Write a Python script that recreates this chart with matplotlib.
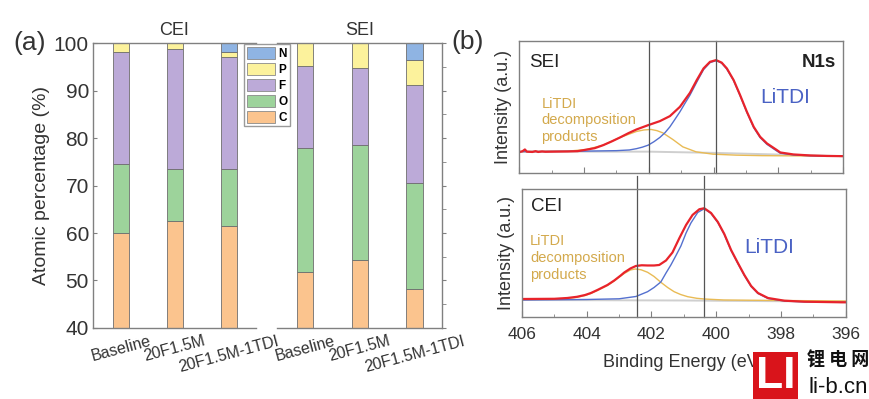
import matplotlib
matplotlib.use("Agg")
import matplotlib.pyplot as plt
from matplotlib.patches import Patch, Rectangle
from matplotlib.ticker import MultipleLocator

plt.rcParams['font.family'] = ['Liberation Sans', 'DejaVu Sans']

# ---- (a) atomic percentages, stacked C, O, F, P, N ----
samples = ['Baseline', '20F1.5M', '20F1.5M-1TDI']
cei_c = [59.9, 62.6, 61.5]
cei_o = [14.7, 10.8, 11.9]
cei_f = [23.5, 25.3, 23.7]
cei_p = [1.9, 1.3, 1.0]
cei_n = [0.0, 0.0, 1.9]
sei_c = [51.7, 54.3, 48.2]
sei_o = [26.3, 24.2, 22.4]
sei_f = [17.2, 16.3, 20.6]
sei_p = [4.8, 5.2, 5.2]
sei_n = [0.0, 0.0, 3.6]
elements = ['C', 'O', 'F', 'P', 'N']
el_colors = ['#fbc48e', '#9dd39b', '#bcaad8', '#fcf29c', '#8fb4e3']

# ---- (b) N1s spectra, (binding energy eV, intensity a.u.) ----
sei_env = [(406.0, 21.0), (405.9, 22.0), (405.83, 23.7), (405.77, 21.5), (405.6, 21.2),
           (405.5, 22.0), (405.42, 21.2), (405.3, 21.7), (405.2, 21.4), (405.0, 21.5),
           (404.5, 21.7), (404.2, 22.0), (403.93, 23.5), (403.67, 25.0), (403.41, 28.0),
           (403.15, 31.7), (402.89, 35.7), (402.63, 40.0), (402.38, 43.7), (402.02, 48.0),
           (401.66, 52.0), (401.35, 57.0), (401.04, 66.3), (400.73, 80.3), (400.52, 93.0),
           (400.31, 104.7), (400.11, 111.3), (399.92, 113.0), (399.75, 110.5), (399.59, 104.7),
           (399.38, 93.0), (399.18, 78.0), (398.97, 61.3), (398.76, 46.3), (398.56, 36.3),
           (398.35, 29.7), (398.04, 23.0), (397.94, 20.7), (397.53, 18.7), (397.01, 17.7),
           (396.5, 17.2), (396.0, 17.0)]
sei_litdi = [(406.0, 21.5), (404.0, 22.0), (403.0, 22.5), (402.6, 23.2), (402.38, 24.5),
             (402.2, 26.0), (402.02, 28.0), (401.84, 31.5), (401.66, 35.7), (401.5, 40.5),
             (401.35, 46.3), (401.2, 53.5), (401.04, 61.3), (400.89, 69.5), (400.73, 78.0),
             (400.52, 91.0), (400.31, 103.5), (400.11, 110.5), (399.92, 112.5), (399.75, 110.0),
             (399.59, 104.0), (399.38, 92.5), (399.18, 77.5), (398.97, 60.7), (398.76, 45.5),
             (398.56, 35.5), (398.35, 28.8), (398.04, 22.0), (397.94, 20.0), (397.53, 18.2),
             (397.01, 17.4), (396.5, 17.0), (396.0, 16.8)]
sei_decomp = [(406.0, 21.5), (404.5, 22.0), (403.93, 23.7), (403.41, 28.0), (402.89, 35.7),
              (402.38, 41.7), (402.15, 43.2), (401.93, 43.7), (401.75, 42.5), (401.57, 40.3),
              (401.26, 33.7), (400.95, 26.3), (400.54, 21.3), (400.02, 19.0), (399.3, 18.0),
              (398.5, 17.5), (396.0, 17.0)]
sei_bg = [(406.0, 21.5), (402.0, 21.5), (400.0, 20.3), (398.0, 18.6), (396.0, 17.0)]

cei_env = [(406.0, 18.0), (405.0, 18.2), (404.6, 19.0), (404.3, 20.2), (404.05, 22.0),
           (403.87, 24.0), (403.67, 27.0), (403.36, 32.0), (403.15, 36.5), (402.95, 41.5),
           (402.84, 44.5), (402.65, 48.5), (402.48, 51.0), (402.3, 51.7), (402.12, 51.5),
           (401.92, 51.5), (401.76, 52.0), (401.55, 56.5), (401.35, 64.5), (401.14, 78.7),
           (400.93, 92.0), (400.73, 102.0), (400.52, 107.7), (400.37, 108.7), (400.16, 104.0),
           (399.95, 95.0), (399.75, 83.0), (399.54, 67.0), (399.33, 54.0), (399.13, 42.0),
           (398.92, 31.0), (398.71, 24.0), (398.4, 19.0), (397.89, 16.3), (397.27, 15.3),
           (396.13, 14.7), (396.0, 14.7)]
cei_litdi = [(406.0, 17.0), (404.0, 17.5), (403.0, 18.2), (402.48, 20.5), (402.12, 25.3),
             (401.92, 29.5), (401.71, 35.0), (401.55, 44.0), (401.4, 52.0), (401.25, 61.0),
             (401.09, 71.0), (400.93, 84.0), (400.78, 94.0), (400.57, 104.5), (400.37, 108.2),
             (400.16, 103.5), (399.95, 94.5), (399.75, 82.5), (399.54, 66.5), (399.33, 53.5),
             (399.13, 41.5), (398.92, 30.5), (398.71, 23.5), (398.4, 18.5), (397.89, 16.0),
             (397.27, 15.1), (396.0, 14.6)]
cei_decomp = [(406.0, 17.5), (405.0, 17.7), (404.6, 18.5), (404.3, 19.7), (404.05, 21.5),
              (403.87, 23.5), (403.67, 26.5), (403.36, 31.5), (403.15, 36.0), (402.95, 41.0),
              (402.84, 43.5), (402.65, 47.0), (402.5, 48.0), (402.32, 47.2), (402.12, 44.7),
              (401.92, 40.5), (401.71, 34.7), (401.5, 29.5), (401.3, 25.3), (401.1, 22.5),
              (400.88, 20.3), (400.6, 18.7), (400.37, 18.0), (399.76, 17.0), (398.0, 16.5),
              (396.0, 16.0)]
cei_bg = [(406.0, 17.0), (401.0, 16.5), (396.0, 15.3)]

sei_peaks = [402.0, 399.93]
cei_peaks = [402.45, 400.38]

SPINE = '#808080'
TXT = '#333333'

fig = plt.figure(figsize=(8.7, 3.99), dpi=100)


def style_spines(ax, sides):
    for s, sp in ax.spines.items():
        sp.set_color(SPINE)
        sp.set_linewidth(1.0)
        sp.set_visible(s in sides)


def stacked(ax, parts, title):
    bottom = [0.0, 0.0, 0.0]
    for vals, col in zip(parts, el_colors):
        ax.bar(range(len(samples)), vals, 0.3, bottom=bottom, color=col,
               edgecolor='#6e6e6e', linewidth=0.6)
        bottom = [b + v for b, v in zip(bottom, vals)]
    ax.set_xlim(-0.52, 2.5)
    ax.set_ylim(40, 100)
    ax.set_xticks(range(len(samples)), samples, rotation=15, fontsize=11.5, color=TXT)
    ax.tick_params(axis='x', length=0, pad=4)
    ax.set_title(title, fontsize=13, color=TXT, pad=6)


ax_cei = fig.add_axes([0.107, 0.178, 0.187, 0.714])
stacked(ax_cei, [cei_c, cei_o, cei_f, cei_p, cei_n], 'CEI')
style_spines(ax_cei, ['left', 'bottom', 'top'])
ax_cei.set_yticks(range(40, 101, 10))
ax_cei.tick_params(axis='y', direction='in', length=3, color=SPINE, labelsize=15,
                   labelcolor=TXT, pad=3)
ax_cei.set_ylabel('Atomic percentage (%)', fontsize=14, color=TXT)
ax_cei.yaxis.set_label_coords(-0.265, 0.5)

ax_sei = fig.add_axes([0.318, 0.178, 0.190, 0.714])
stacked(ax_sei, [sei_c, sei_o, sei_f, sei_p, sei_n], 'SEI')
style_spines(ax_sei, ['right', 'bottom', 'top'])
ax_sei.yaxis.tick_right()
ax_sei.set_yticks(range(40, 101, 10))
ax_sei.yaxis.set_minor_locator(MultipleLocator(5))
ax_sei.tick_params(axis='y', which='both', direction='out', length=3, color=SPINE,
                   labelright=False)

handles = [Patch(facecolor=c, edgecolor='#8a8a8a', linewidth=0.6, label=e)
           for e, c in zip(elements, el_colors)][::-1]
fig.legend(handles=handles, loc='upper left', bbox_to_anchor=(0.281, 0.889),
           prop={'weight': 'bold', 'size': 8.5}, frameon=True, fancybox=False,
           edgecolor='#9a9a9a', framealpha=1, borderpad=0.2, handlelength=2.4,
           handleheight=1.2, labelspacing=0.25, handletextpad=0.3, borderaxespad=0)


def xps(ax, env, litdi, decomp, bg, peaks, ext):
    for data, col, lw in [(bg, '#cfcfcf', 1.4), (decomp, '#e9bb55', 1.0),
                          (litdi, '#5470cf', 1.0), (env, '#e8232b', 1.6)]:
        ax.plot([p[0] for p in data], [p[1] for p in data], color=col, lw=lw)
    for e in peaks:
        ax.axvline(e, ymin=0, ymax=ext, color='#555555', lw=0.9, clip_on=False)
    ax.set_xlim(406, 396)
    style_spines(ax, ['left', 'right', 'top', 'bottom'])
    ax.set_yticks([])
    ax.xaxis.set_major_locator(MultipleLocator(2))
    ax.xaxis.set_minor_locator(MultipleLocator(1))
    ax.tick_params(axis='x', which='major', direction='in', length=4, color=SPINE,
                   labelsize=12.5, labelcolor=TXT, pad=7)
    ax.tick_params(axis='x', which='minor', direction='in', length=2.5, color=SPINE)
    ax.set_ylabel('Intensity (a.u.)', fontsize=13, color=TXT)
    ax.yaxis.set_label_coords(-0.022, 0.5)


ax_top = fig.add_axes([0.597, 0.566, 0.372, 0.331])
xps(ax_top, sei_env, sei_litdi, sei_decomp, sei_bg, sei_peaks, 1.0)
ax_top.set_ylim(0, 132)
ax_top.tick_params(axis='x', labelbottom=False)
ax_top.text(0.031, 0.84, 'SEI', transform=ax_top.transAxes, fontsize=13.5, color='#222222',
            ha='left', va='center')
ax_top.text(0.978, 0.84, 'N1s', transform=ax_top.transAxes, fontsize=13.5, color='#222222',
            ha='right', va='center', fontweight='bold')
ax_top.text(0.821, 0.576, 'LiTDI', transform=ax_top.transAxes, fontsize=15, color='#4a62c4',
            ha='center', va='center')
ax_top.text(0.068, 0.40, 'LiTDI\ndecomposition\nproducts', transform=ax_top.transAxes,
            fontsize=10.5, color='#d3a94c', ha='left', va='center', linespacing=1.25)

ax_bot = fig.add_axes([0.600, 0.2055, 0.372, 0.321])
xps(ax_bot, cei_env, cei_litdi, cei_decomp, cei_bg, cei_peaks, 1.1)
ax_bot.set_ylim(0, 128)
ax_bot.set_xlabel('Binding Energy (eV)', fontsize=13, color=TXT)
ax_bot.xaxis.set_label_coords(0.5, -0.29)
ax_bot.text(0.028, 0.86, 'CEI', transform=ax_bot.transAxes, fontsize=13.5, color='#222222',
            ha='left', va='center')
ax_bot.text(0.765, 0.54, 'LiTDI', transform=ax_bot.transAxes, fontsize=15, color='#4a62c4',
            ha='center', va='center')
ax_bot.text(0.025, 0.46, 'LiTDI\ndecomposition\nproducts', transform=ax_bot.transAxes,
            fontsize=10.5, color='#d3a94c', ha='left', va='center', linespacing=1.25)

fig.text(0.015, 0.892, '(a)', fontsize=19, color=TXT, ha='left', va='center')
fig.text(0.519, 0.895, '(b)', fontsize=19, color=TXT, ha='left', va='center')

# watermark
fig.patches.append(Rectangle((0.8655, 0.0), 0.0517, 0.118, transform=fig.transFigure,
                             facecolor='#d9141b', edgecolor='none', zorder=10))
fig.text(0.8913, 0.057, 'LI', fontsize=32, fontweight='bold', color='white',
         ha='center', va='center', zorder=11)
fig.text(0.963, 0.097, '锂 电 网', fontsize=13, fontweight='bold', color='#111111',
         ha='center', va='center', family=['Noto Sans CJK SC', 'DejaVu Sans'], zorder=11)
fig.text(0.963, 0.028, 'li-b.cn', fontsize=16, color='#111111', ha='center', va='center',
         zorder=11)

fig.savefig('out.png', dpi=100)
